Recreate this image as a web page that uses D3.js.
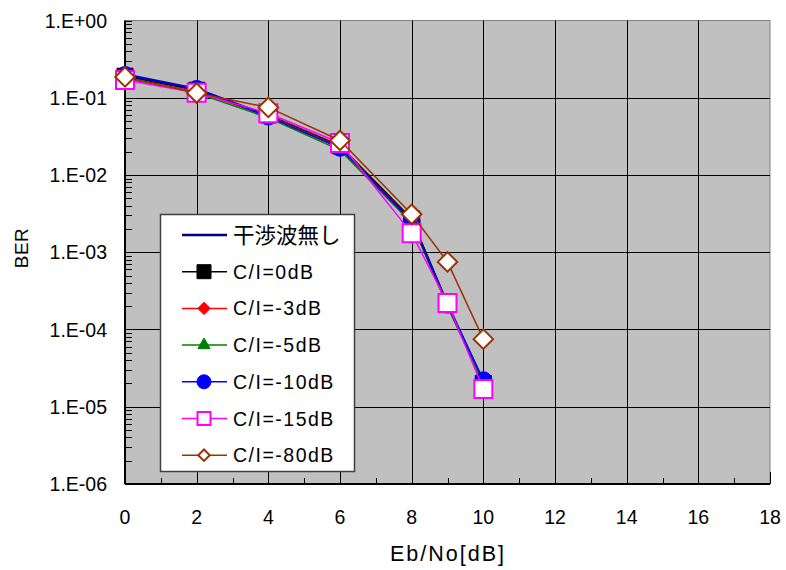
<!DOCTYPE html>
<html>
<head>
<meta charset="utf-8">
<script src="https://cdn.jsdelivr.net/npm/d3@7"></script>
<style>
  html, body { margin: 0; padding: 0; background: #fff; }
  svg { display: block; }
  text { font-family: "Liberation Sans", Arial, "Noto Sans CJK JP", sans-serif; fill: #000; }
  text.cjk { font-family: "Noto Sans CJK JP", sans-serif; }
</style>
</head>
<body>
<svg id="chart" width="786" height="570"></svg>
<script>
// Eb/No sample points (dB)
const ebno = [0, 2, 4, 6, 8, 9, 10];

// BER per interference condition
const berNoInterf = [0.200, 0.130, 0.058, 0.023, 0.0026, 2.1e-4, 2.1e-5];
const berCI0   = [0.190, 0.125, 0.060, 0.024, 0.0027, 2.1e-4, 2.0e-5];
const berCI3   = [0.180, 0.120, 0.058, 0.023, 0.0025, 2.1e-4, 2.0e-5];
const berCI5   = [0.180, 0.115, 0.055, 0.021, 0.0024, 2.0e-4, 2.0e-5];
const berCI10  = [0.197, 0.130, 0.057, 0.0225, 0.0025, 2.1e-4, 2.2e-5];
const berCI15  = [0.170, 0.116, 0.063, 0.026, 0.00176, 2.2e-4, 1.7e-5];
const berCI80  = [0.186, 0.115, 0.075, 0.028, 0.0031, 7.5e-4, 7.5e-5];

const seriesNames = ["干渉波無し", "C/I=0dB", "C/I=-3dB", "C/I=-5dB", "C/I=-10dB", "C/I=-15dB", "C/I=-80dB"];

const xTicks = [0, 2, 4, 6, 8, 10, 12, 14, 16, 18];
const yTicks = [1, 1e-1, 1e-2, 1e-3, 1e-4, 1e-5, 1e-6];
const yTickLabels = ["1.E+00", "1.E-01", "1.E-02", "1.E-03", "1.E-04", "1.E-05", "1.E-06"];

const series = [
  { name: seriesNames[0], values: berNoInterf, color: "#000080", width: 2.6, marker: null },
  { name: seriesNames[1], values: berCI0,  color: "#000000", width: 1.5, marker: "square",   fill: "#000000", size: 16 },
  { name: seriesNames[2], values: berCI3,  color: "#ff0000", width: 1.5, marker: "diamond",  fill: "#ff0000", size: 16 },
  { name: seriesNames[3], values: berCI5,  color: "#008000", width: 1.5, marker: "triangle", fill: "#008000", size: 16 },
  { name: seriesNames[4], values: berCI10, color: "#0000ff", width: 1.5, marker: "circle",   fill: "#0000ff", size: 17 },
  { name: seriesNames[5], values: berCI15, color: "#ff00ff", width: 1.5, marker: "square",   fill: "#ffffff", size: 18 },
  { name: seriesNames[6], values: berCI80, color: "#993300", width: 1.5, marker: "diamond",  fill: "#ffffff", size: 22 }
];

const svg = d3.select("#chart");
const plot = { left: 125, top: 20.5, right: 770, bottom: 484 };

const x = d3.scaleLinear().domain([0, 18]).range([plot.left, plot.right]);
const y = d3.scaleLog().domain([1e-6, 1]).range([plot.bottom, plot.top]);

// plot background
svg.append("rect")
  .attr("x", plot.left).attr("y", plot.top)
  .attr("width", plot.right - plot.left).attr("height", plot.bottom - plot.top)
  .attr("fill", "#c0c0c0").attr("stroke", "#808080").attr("stroke-width", 1);

// grid lines
const grid = svg.append("g").attr("stroke", "#000").attr("stroke-width", 1);
xTicks.slice(1, -1).forEach(t => {
  grid.append("line").attr("x1", Math.round(x(t)) + 0.5).attr("x2", Math.round(x(t)) + 0.5)
    .attr("y1", plot.top).attr("y2", plot.bottom);
});
yTicks.slice(1, -1).forEach(t => {
  grid.append("line").attr("y1", Math.round(y(t)) + 0.5).attr("y2", Math.round(y(t)) + 0.5)
    .attr("x1", plot.left).attr("x2", plot.right);
});

// y axis with inward minor ticks
const yMinor = [];
for (let e = -6; e < 0; e++) for (let m = 2; m <= 9; m++) yMinor.push(m * Math.pow(10, e));
const yAxis = svg.append("g").attr("transform", `translate(${plot.left},0)`);
yAxis.append("line").attr("x1", 0).attr("x2", 0).attr("y1", plot.top).attr("y2", plot.bottom)
  .attr("stroke", "#000").attr("stroke-width", 2);
yAxis.selectAll("line.minor").data(yMinor).join("line").attr("class", "minor")
  .attr("x1", 0).attr("x2", 7).attr("y1", d => Math.round(y(d)) + 0.5).attr("y2", d => Math.round(y(d)) + 0.5)
  .attr("stroke", "#000").attr("stroke-width", 1);
yAxis.selectAll("line.major").data(yTicks).join("line").attr("class", "major")
  .attr("x1", 0).attr("x2", 7).attr("y1", d => Math.round(y(d)) + 0.5).attr("y2", d => Math.round(y(d)) + 0.5)
  .attr("stroke", "#000").attr("stroke-width", 1);
yAxis.selectAll("text").data(yTicks).join("text")
  .attr("x", -18).attr("y", d => y(d)).attr("dy", "0.36em")
  .attr("text-anchor", "end").attr("font-size", 19.5)
  .text((d, i) => yTickLabels[i]);

// x axis with inward ticks
const xMinor = d3.range(1, 18, 2);
const xAxis = svg.append("g").attr("transform", `translate(0,${plot.bottom})`);
xAxis.append("line").attr("x1", plot.left).attr("x2", plot.right).attr("y1", 0).attr("y2", 0)
  .attr("stroke", "#000").attr("stroke-width", 2);
xAxis.selectAll("line.minor").data(xMinor).join("line").attr("class", "minor")
  .attr("x1", d => Math.round(x(d)) + 0.5).attr("x2", d => Math.round(x(d)) + 0.5)
  .attr("y1", 0).attr("y2", -6).attr("stroke", "#000");
xAxis.selectAll("line.major").data(xTicks).join("line").attr("class", "major")
  .attr("x1", d => Math.round(x(d)) + 0.5).attr("x2", d => Math.round(x(d)) + 0.5)
  .attr("y1", 0).attr("y2", -12).attr("stroke", "#000");
xAxis.selectAll("text").data(xTicks).join("text")
  .attr("x", d => x(d)).attr("y", 40)
  .attr("text-anchor", "middle").attr("font-size", 19.5)
  .text(d => d);

// axis titles
svg.append("text").attr("x", 448).attr("y", 561)
  .attr("text-anchor", "middle").attr("font-size", 21.5).attr("letter-spacing", 2)
  .text("Eb/No[dB]");
svg.append("text").attr("transform", `translate(28,248) rotate(-90)`)
  .attr("text-anchor", "middle").attr("font-size", 19).attr("letter-spacing", 0.5).text("BER");

// marker shapes
function symbolFor(kind) {
  return {
    square: d3.symbolSquare, diamond: d3.symbolDiamond2, triangle: d3.symbolTriangle2, circle: d3.symbolCircle
  }[kind];
}
function drawMarker(g, s, cx, cy, size) {
  const sym = symbolFor(s.marker);
  // d3 symbol size is area; diamond2 is a rotated square so area = side^2
  let area;
  if (s.marker === "circle") area = Math.PI * (size / 2) * (size / 2);
  else if (s.marker === "diamond") area = (size / Math.SQRT2) * (size / Math.SQRT2);
  else if (s.marker === "triangle") area = size * size * 0.55;
  else area = size * size;
  g.append("path")
    .attr("d", d3.symbol().type(sym).size(area)())
    .attr("transform", `translate(${cx},${cy})`)
    .attr("fill", s.fill)
    .attr("stroke", s.color)
    .attr("stroke-width", s.fill === "#ffffff" ? 2 : 1);
}

// series
const line = d3.line().x(d => x(d[0])).y(d => y(d[1]));
const marks = svg.append("g");
series.forEach(s => {
  const pts = ebno.map((e, i) => [e, s.values[i]]);
  const g = marks.append("g");
  g.append("path").attr("d", line(pts)).attr("fill", "none")
    .attr("stroke", s.color).attr("stroke-width", s.width);
  if (s.marker) pts.forEach(p => drawMarker(g, s, x(p[0]), y(p[1]), s.size));
});

// legend
const lg = svg.append("g");
lg.append("rect").attr("x", 160.5).attr("y", 214.5).attr("width", 194).attr("height", 257)
  .attr("fill", "#fff").attr("stroke", "#404040").attr("stroke-width", 1.5);
series.forEach((s, i) => {
  const cy = 235 + i * 36.7;
  lg.append("line").attr("x1", 182).attr("x2", 227).attr("y1", cy).attr("y2", cy)
    .attr("stroke", s.color).attr("stroke-width", s.marker ? 1.5 : 2.6);
  if (s.marker) drawMarker(lg, s, 204, cy, s.marker === "circle" ? 14 : (s.fill === "#ffffff" ? 13 : 14));
  const t = lg.append("text").attr("x", 233).attr("y", cy).attr("dy", "0.36em");
  if (s.marker) {
    t.attr("font-size", 19.5).attr("letter-spacing", 1.5).text(s.name);
  } else {
    t.attr("class", "cjk").attr("font-size", 21.5).attr("dy", "0.38em").text(s.name);
  }
});
</script>
</body>
</html>
